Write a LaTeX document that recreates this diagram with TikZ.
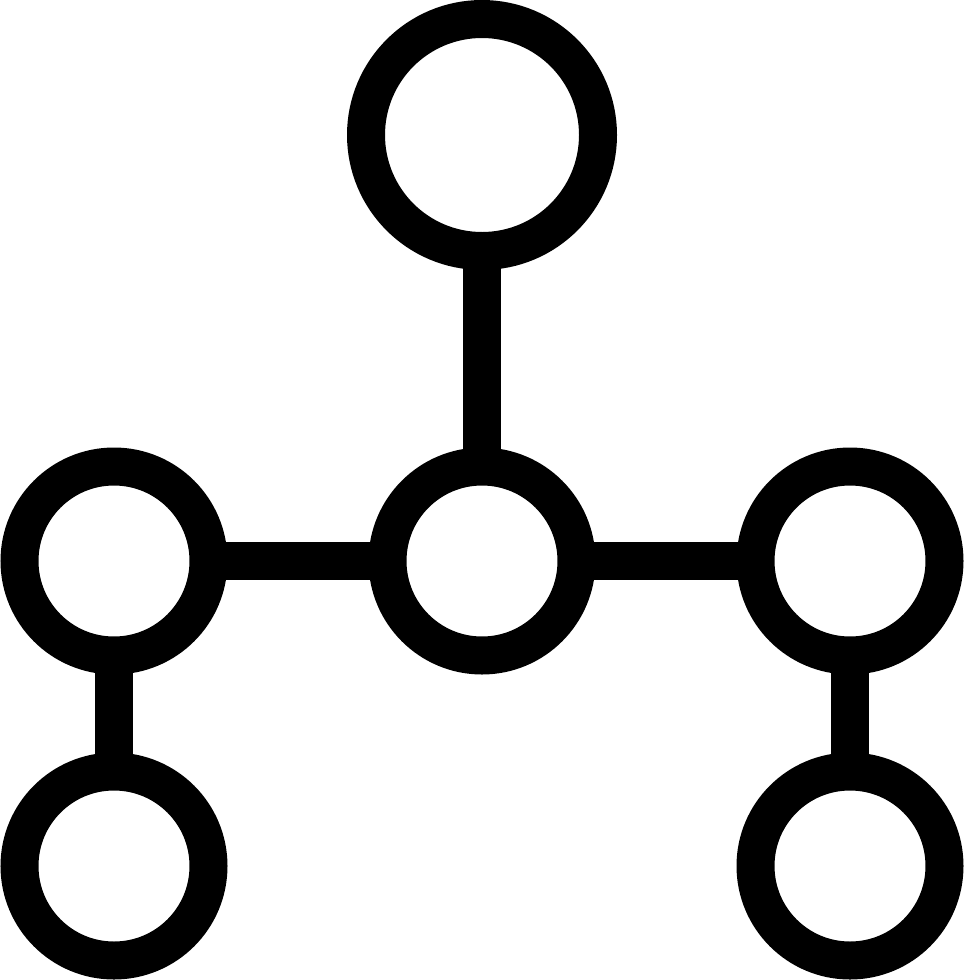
\documentclass[tikz,border=0pt]{standalone}
\begin{document}
\begin{tikzpicture}[x=0.5pt,y=-0.5pt,
  ring/.style={circle,draw=black,line width=19pt,inner sep=0pt,minimum size=94.5pt,outer sep=0pt,fill=white},
  bigring/.style={ring,minimum size=116pt},
  link/.style={draw=black,line width=19pt}]
\useasboundingbox (0,0) rectangle (964,980);
\coordinate (ct) at (482,135);
\coordinate (cm) at (482,561);
\coordinate (cl) at (114,561);
\coordinate (cr) at (850,561);
\coordinate (cbl) at (114,866);
\coordinate (cbr) at (850,866);
\draw[link] (ct) -- (cm);
\draw[link] (cl) -- (cm);
\draw[link] (cm) -- (cr);
\draw[link] (cl) -- (cbl);
\draw[link] (cr) -- (cbr);
\node[bigring] (top) at (ct) {};
\node[ring] (mid) at (cm) {};
\node[ring] (left) at (cl) {};
\node[ring] (right) at (cr) {};
\node[ring] (bl) at (cbl) {};
\node[ring] (br) at (cbr) {};
\end{tikzpicture}
\end{document}
